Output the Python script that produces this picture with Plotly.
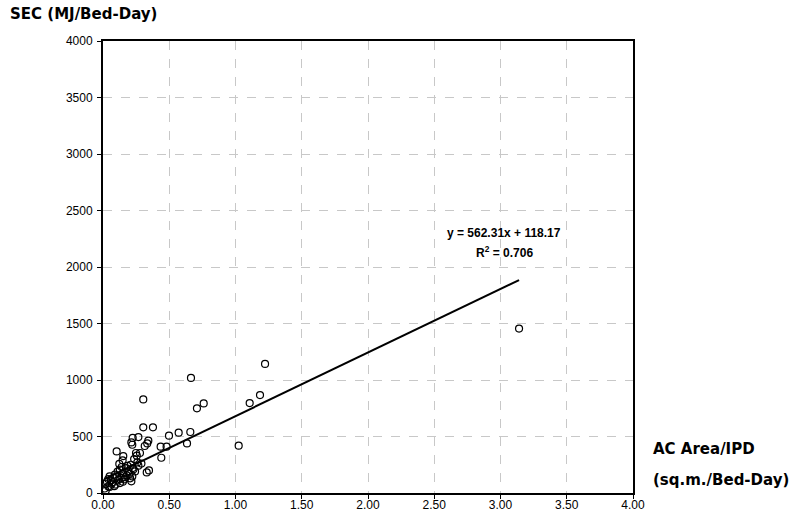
import plotly.graph_objects as go

ac_area_ipd = [1.223, 0.664, 0.304, 1.185, 1.107, 0.760, 0.709, 0.304, 0.377, 0.571,
               0.659, 0.498, 0.634, 1.024, 0.435, 0.480, 0.440, 0.267, 0.224, 0.214,
               0.221, 0.342, 0.334, 0.315, 0.103, 0.153, 0.148, 0.249, 0.279, 0.123,
               0.141, 0.209, 0.224, 0.259, 0.267, 0.242, 0.347, 0.330, 0.153, 0.221,
               0.214, 0.103, 0.078, 0.050, 0.040, 0.022, 0.050, 0.066, 0.128, 0.141,
               0.179, 0.191, 0.174, 0.128, 0.090, 0.116, 0.040, 3.140, 0.020, 0.030,
               0.060, 0.095, 0.160, 0.200, 0.185, 0.110, 0.070, 0.235, 0.255, 0.290,
               0.012, 0.085, 0.170, 0.205, 0.150, 0.230]
sec = [1142, 1018, 828, 867, 796, 793, 749, 581, 581, 534,
       540, 507, 439, 419, 410, 410, 312, 495, 487, 448,
       427, 463, 439, 416, 368, 327, 289, 354, 354, 257,
       230, 250, 221, 271, 242, 191, 200, 182, 177, 147,
       103, 147, 133, 147, 124, 82, 53, 82, 88, 133,
       156, 191, 221, 206, 162, 118, 58, 1455, 20, 100,
       110, 75, 120, 170, 240, 190, 95, 300, 330, 260,
       40, 60, 140, 130, 100, 210]

slope = 562.31
intercept = 118.17
x_ticks = [0, 0.5, 1.0, 1.5, 2.0, 2.5, 3.0, 3.5, 4.0]
y_ticks = [0, 500, 1000, 1500, 2000, 2500, 3000, 3500, 4000]

x_line = [min(ac_area_ipd), max(ac_area_ipd)]
y_line = [slope * v + intercept for v in x_line]

fig = go.Figure()
fig.add_trace(go.Scatter(
    x=x_line, y=y_line, mode="lines",
    line=dict(color="black", width=2), hoverinfo="skip", showlegend=False))
fig.add_trace(go.Scatter(
    x=ac_area_ipd, y=sec, mode="markers",
    marker=dict(symbol="circle-open", size=7, color="black", line=dict(width=1.2)),
    showlegend=False))

axis_common = dict(
    showline=True, linecolor="black", linewidth=2, mirror=True,
    ticks="outside", ticklen=4, tickcolor="black", tickwidth=1,
    showgrid=True, gridcolor="#c8c8c8", griddash="dash", gridwidth=1,
    zeroline=False, automargin=False,
    tickfont=dict(family="Liberation Sans", size=12, color="black"),
)
fig.update_xaxes(range=[0, 4], tickvals=x_ticks, tickformat=".2f",
                 ticklabelstandoff=-4, **axis_common)
fig.update_yaxes(range=[0, 4000], tickvals=y_ticks, ticklabelstandoff=2, **axis_common)

title_font = dict(family="DejaVu Sans", size=15, color="black")
fig.add_annotation(xref="paper", yref="paper", x=-95/530, y=1 + 27/452,
                   text="<b>SEC (MJ/Bed-Day)</b>", showarrow=False,
                   xanchor="left", yanchor="middle", font=title_font)
fig.add_annotation(xref="paper", yref="paper", x=1 + 18/530, y=(493 - 449)/452,
                   text="<b>AC Area/IPD</b>", showarrow=False,
                   xanchor="left", yanchor="middle", font=title_font)
fig.add_annotation(xref="paper", yref="paper", x=1 + 18/530, y=(493 - 480)/452,
                   text="<b>(sq.m./Bed-Day)</b>", showarrow=False,
                   xanchor="left", yanchor="middle", font=title_font)
eq_font = dict(family="Liberation Sans", size=12, color="black")
fig.add_annotation(x=3.03, y=2304, xref="x", yref="y",
                   text="<b>y = 562.31x + 118.17</b>",
                   showarrow=False, font=eq_font)
fig.add_annotation(x=3.03, y=2136, xref="x", yref="y",
                   text="<b>R<sup>2</sup> = 0.706</b>",
                   showarrow=False, font=eq_font)

fig.update_layout(
    width=792, height=518,
    margin=dict(l=103, r=159, t=41, b=25, autoexpand=False),
    paper_bgcolor="white", plot_bgcolor="white",
)
fig.write_html("out.html")
